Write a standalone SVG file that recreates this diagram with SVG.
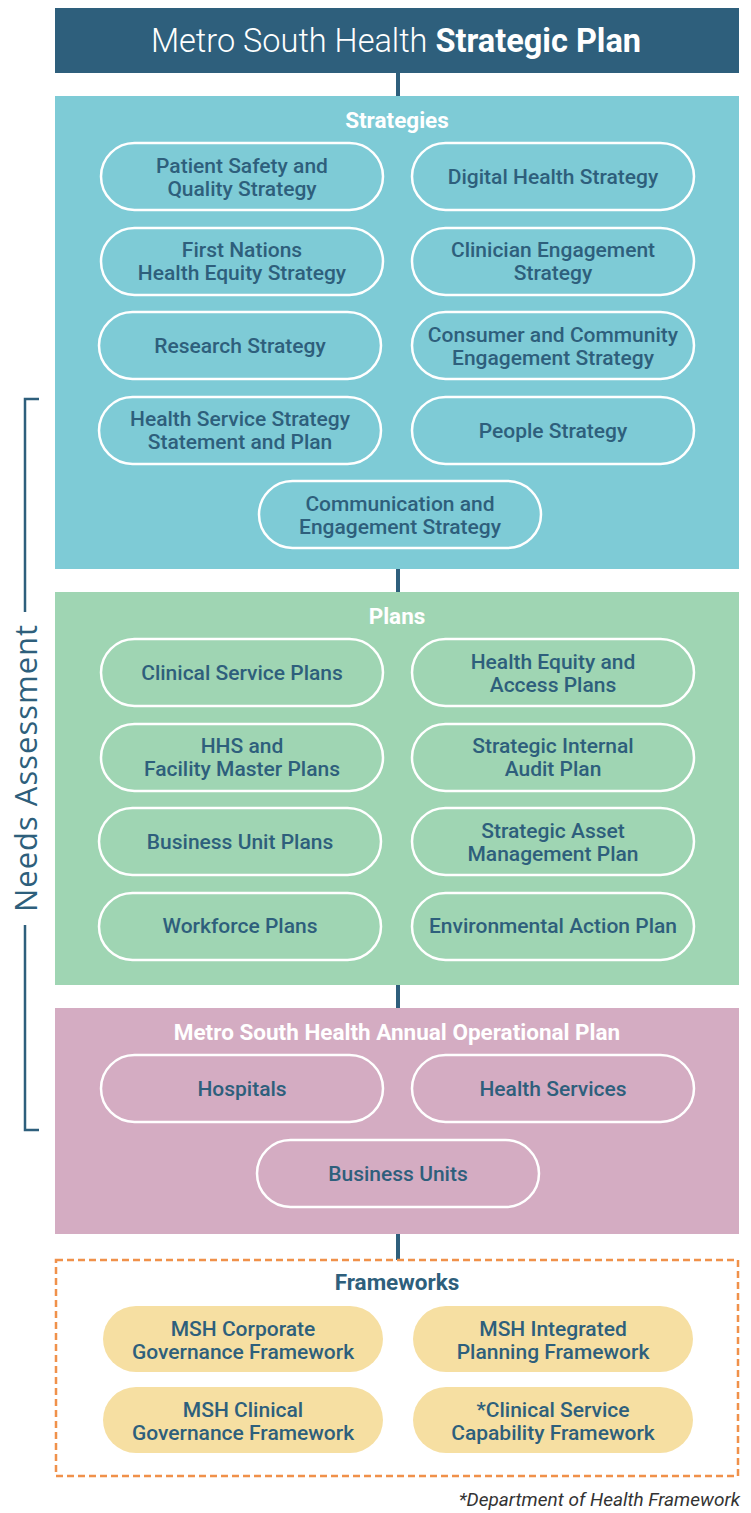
<svg xmlns="http://www.w3.org/2000/svg" width="751" height="1513" viewBox="0 0 751 1513">
<style>
.pill{stroke:#fff;stroke-width:2.5}
.s{fill:#7ECBD6}
.p{fill:#9FD5B3}
.o{fill:#D4ACC2}
.f{fill:#F6DFA2;stroke:none}
.t{font-family:Roboto,"Liberation Sans",sans-serif;font-weight:500;font-size:21px;fill:#2E5F7C;text-anchor:middle}
.h{font-family:Roboto,"Liberation Sans",sans-serif;font-weight:700;font-size:22.5px;fill:#fff;text-anchor:middle}
.fh{font-family:Roboto,"Liberation Sans",sans-serif;font-weight:700;font-size:22.5px;fill:#2E5F7C;text-anchor:middle}
.conn{stroke:#2E5F7C;stroke-width:4;fill:none}
</style>
<g id="connectors">
<line class="conn" x1="398" y1="73" x2="398" y2="96"/>
<line class="conn" x1="398" y1="569" x2="398" y2="592"/>
<line class="conn" x1="398" y1="985" x2="398" y2="1008"/>
<line class="conn" x1="398" y1="1234" x2="398" y2="1260"/>
</g>
<g id="header">
<rect x="55" y="8" width="684" height="65" fill="#2E5F7C"/>
<text x="396" y="52" font-family="Roboto,'Liberation Sans',sans-serif" font-size="32.5" fill="#fff" text-anchor="middle"><tspan font-weight="300">Metro South Health </tspan><tspan font-weight="700">Strategic Plan</tspan></text>
</g>
<g id="needs-assessment">
<path d="M39 399 H25 V612 M25 925 V1130 H39" stroke="#2E5F7C" stroke-width="2.5" fill="none"/>
<text transform="translate(37 768) rotate(-90)" font-family="'Open Sans','Noto Sans',sans-serif" font-size="31" font-weight="500" fill="#2E5F7C" text-anchor="middle" letter-spacing="1">Needs Assessment</text>
</g>
<g id="strategies">
<rect x="55" y="96" width="684" height="473" fill="#7ECBD6"/>
<text class="h" x="397" y="128">Strategies</text>
<g id="s1"><rect class="pill s" x="101" y="143" width="282" height="67" rx="33.5"/><text class="t" x="242" y="173">Patient Safety and</text><text class="t" x="242" y="196">Quality Strategy</text></g>
<g id="s2"><rect class="pill s" x="412" y="143" width="282" height="67" rx="33.5"/><text class="t" x="553" y="184">Digital Health Strategy</text></g>
<g id="s3"><rect class="pill s" x="101" y="228" width="282" height="67" rx="33.5"/><text class="t" x="242" y="257">First Nations</text><text class="t" x="242" y="280">Health Equity Strategy</text></g>
<g id="s4"><rect class="pill s" x="412" y="228" width="282" height="67" rx="33.5"/><text class="t" x="553" y="257">Clinician Engagement</text><text class="t" x="553" y="280">Strategy</text></g>
<g id="s5"><rect class="pill s" x="99" y="312" width="282" height="67" rx="33.5"/><text class="t" x="240" y="353">Research Strategy</text></g>
<g id="s6"><rect class="pill s" x="412" y="312" width="282" height="67" rx="33.5"/><text class="t" x="553" y="342">Consumer and Community</text><text class="t" x="553" y="365">Engagement Strategy</text></g>
<g id="s7"><rect class="pill s" x="99" y="397" width="282" height="67" rx="33.5"/><text class="t" x="240" y="426">Health Service Strategy</text><text class="t" x="240" y="449">Statement and Plan</text></g>
<g id="s8"><rect class="pill s" x="412" y="397" width="282" height="67" rx="33.5"/><text class="t" x="553" y="438">People Strategy</text></g>
<g id="s9"><rect class="pill s" x="259" y="481" width="282" height="67" rx="33.5"/><text class="t" x="400" y="511">Communication and</text><text class="t" x="400" y="534">Engagement Strategy</text></g>
</g>
<g id="plans">
<rect x="55" y="592" width="684" height="393" fill="#9FD5B3"/>
<text class="h" x="397" y="624">Plans</text>
<g id="p1"><rect class="pill p" x="101" y="639" width="282" height="67" rx="33.5"/><text class="t" x="242" y="680">Clinical Service Plans</text></g>
<g id="p2"><rect class="pill p" x="412" y="639" width="282" height="67" rx="33.5"/><text class="t" x="553" y="669">Health Equity and</text><text class="t" x="553" y="692">Access Plans</text></g>
<g id="p3"><rect class="pill p" x="101" y="724" width="282" height="67" rx="33.5"/><text class="t" x="242" y="753">HHS and</text><text class="t" x="242" y="776">Facility Master Plans</text></g>
<g id="p4"><rect class="pill p" x="412" y="724" width="282" height="67" rx="33.5"/><text class="t" x="553" y="753">Strategic Internal</text><text class="t" x="553" y="776">Audit Plan</text></g>
<g id="p5"><rect class="pill p" x="99" y="808" width="282" height="67" rx="33.5"/><text class="t" x="240" y="849">Business Unit Plans</text></g>
<g id="p6"><rect class="pill p" x="412" y="808" width="282" height="67" rx="33.5"/><text class="t" x="553" y="838">Strategic Asset</text><text class="t" x="553" y="861">Management Plan</text></g>
<g id="p7"><rect class="pill p" x="99" y="893" width="282" height="67" rx="33.5"/><text class="t" x="240" y="933">Workforce Plans</text></g>
<g id="p8"><rect class="pill p" x="412" y="893" width="282" height="67" rx="33.5"/><text class="t" x="553" y="933">Environmental Action Plan</text></g>
</g>
<g id="operational">
<rect x="55" y="1008" width="684" height="226" fill="#D4ACC2"/>
<text class="h" x="397" y="1040">Metro South Health Annual Operational Plan</text>
<g id="o1"><rect class="pill o" x="101" y="1055" width="282" height="67" rx="33.5"/><text class="t" x="242" y="1096">Hospitals</text></g>
<g id="o2"><rect class="pill o" x="412" y="1055" width="282" height="67" rx="33.5"/><text class="t" x="553" y="1096">Health Services</text></g>
<g id="o3"><rect class="pill o" x="257" y="1140" width="282" height="67" rx="33.5"/><text class="t" x="398" y="1181">Business Units</text></g>
</g>
<g id="frameworks">
<rect x="56" y="1260" width="682" height="216" fill="none" stroke="#F0914A" stroke-width="2.5" stroke-dasharray="7 4"/>
<text class="fh" x="397" y="1290">Frameworks</text>
<g id="f1"><rect class="f" x="103" y="1306" width="280" height="66" rx="33"/><text class="t" x="243" y="1336">MSH Corporate</text><text class="t" x="243" y="1359">Governance Framework</text></g>
<g id="f2"><rect class="f" x="413" y="1306" width="280" height="66" rx="33"/><text class="t" x="553" y="1336">MSH Integrated</text><text class="t" x="553" y="1359">Planning Framework</text></g>
<g id="f3"><rect class="f" x="103" y="1387" width="280" height="66" rx="33"/><text class="t" x="243" y="1417">MSH Clinical</text><text class="t" x="243" y="1440">Governance Framework</text></g>
<g id="f4"><rect class="f" x="413" y="1387" width="280" height="66" rx="33"/><text class="t" x="553" y="1417">*Clinical Service</text><text class="t" x="553" y="1440">Capability Framework</text></g>
</g>
<text id="footnote" x="740" y="1506" font-family="Roboto,'Liberation Sans',sans-serif" font-style="italic" font-size="19" fill="#333" text-anchor="end">*Department of Health Framework</text>
</svg>
